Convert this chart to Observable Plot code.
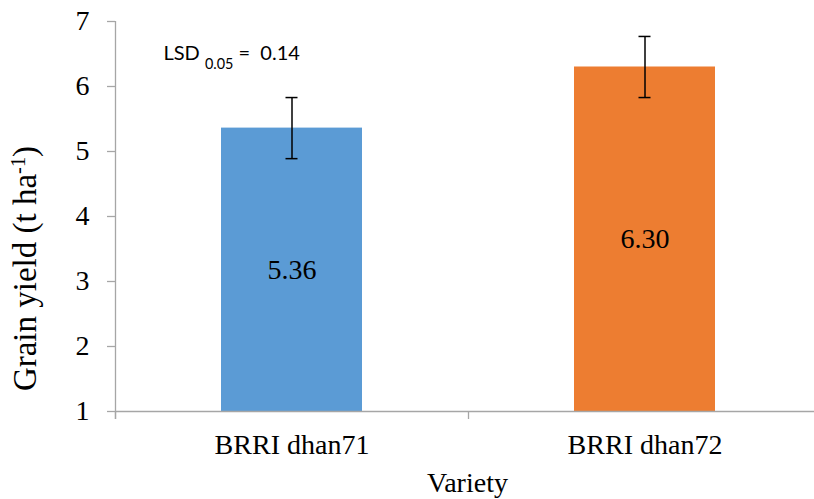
<!DOCTYPE html>
<html>
<head>
<meta charset="utf-8">
<script src="https://cdn.jsdelivr.net/npm/d3@7"></script>
<script src="https://cdn.jsdelivr.net/npm/@observablehq/plot@0.6"></script>
<style>
  html, body { margin: 0; padding: 0; background: #fff; }
  #chart svg text { font-family: 'Liberation Serif', 'Times New Roman', serif; font-variant: normal; }
</style>
</head>
<body>
<div id="chart"></div>
<script>
// Grain yield by variety (t/ha), with error bars
const varieties = ["BRRI dhan71", "BRRI dhan72"];
const yields = [5.36, 6.30];
const errors = [0.47, 0.47];
const barColors = ["#5b9bd5", "#ed7d31"];
const yTicks = [1, 2, 3, 4, 5, 6, 7];
const lsdLabel = "LSD";
const lsdSub = "0.05";
const lsdValue = "0.14";
const yLabel = "Grain yield (t ha";
const yLabelSup = "-1";
const xLabel = "Variety";

const data = varieties.map((variety, i) => ({variety, yield: yields[i], err: errors[i]}));

// layout
const W = 814, H = 499;
const plotLeft = 115, plotTop = 21, plotBottom = 411;
const xRange = [plotLeft, 821];
const band = (xRange[1] - xRange[0]) / varieties.length;
const barW = 141, capW = 12, tickLen = 8;
const axisGray = "#a6a6a6";
const serif = "'Liberation Serif', 'Times New Roman', serif";
const sans = "Lato, 'Liberation Sans', sans-serif";
const yMin = yTicks[0], yMax = yTicks[yTicks.length - 1];
const pxPerUnit = (plotBottom - plotTop) / (yMax - yMin);
const below = yMin - tickLen / pxPerUnit;

const chart = Plot.plot({
  width: W,
  height: H,
  marginLeft: plotLeft,
  marginTop: plotTop,
  marginBottom: H - plotBottom,
  marginRight: 0,
  style: {fontFamily: serif, background: "#fff", color: "#000", overflow: "visible"},
  x: {type: "band", domain: varieties, range: xRange, padding: 0, axis: null, label: null},
  y: {domain: [yMin, yMax], axis: null, label: null},
  color: {domain: varieties, range: barColors},
  marks: [
    // bars
    Plot.barY(data, {
      x: "variety", y1: yMin, y2: "yield", fill: "variety",
      insetLeft: (band - barW) / 2, insetRight: (band - barW) / 2
    }),
    // value labels in the middle of each bar
    Plot.text(data, {
      x: "variety", y: d => (yMin + d.yield) / 2, text: d => d.yield.toFixed(2),
      fontSize: 28, fill: "#000", fontFamily: serif
    }),
    // error bars
    Plot.ruleX(data, {
      x: "variety", y1: d => d.yield - d.err, y2: d => d.yield + d.err,
      stroke: "#000", strokeWidth: 1.5
    }),
    Plot.tickY(data, {
      x: "variety", y: d => d.yield + d.err, stroke: "#000", strokeWidth: 1.5,
      insetLeft: (band - capW) / 2, insetRight: (band - capW) / 2
    }),
    Plot.tickY(data, {
      x: "variety", y: d => d.yield - d.err, stroke: "#000", strokeWidth: 1.5,
      insetLeft: (band - capW) / 2, insetRight: (band - capW) / 2
    }),
    // x baseline
    Plot.ruleY([yMin], {stroke: axisGray, strokeWidth: 1.3}),
    // y axis line and category boundary ticks
    Plot.ruleX([varieties[0]], {x: d => d, dx: -band / 2, y1: below, y2: yMax, stroke: axisGray, strokeWidth: 1.3}),
    Plot.ruleX(varieties, {x: d => d, dx: -band / 2, y1: below, y2: yMin, stroke: axisGray, strokeWidth: 1.3}),
    // y axis ticks and labels
    Plot.axisY({
      ticks: yTicks, tickSize: tickLen, tickPadding: 18, tickFormat: d => d,
      stroke: axisGray, strokeWidth: 1.3, fill: "#000", fontSize: 28, fontFamily: serif, label: null
    }),
    // x axis category labels
    Plot.axisX({
      tickSize: 0, tickPadding: 23, fill: "#000", fontSize: 28, fontFamily: serif, label: null
    }),
    // axis titles
    Plot.text([xLabel], {
      frameAnchor: "bottom", lineAnchor: "top", dx: 2.5, dy: 61,
      fontSize: 28, fill: "#000", fontFamily: serif
    }),
    Plot.text([yLabel], {
      frameAnchor: "left", textAnchor: "middle", rotate: -90, dx: -90, dy: 52,
      fontSize: 33, fill: "#000", fontFamily: serif
    }),
    // LSD annotation
    Plot.text([lsdLabel], {
      frameAnchor: "top-left", textAnchor: "start", lineAnchor: "top", dx: 48, dy: 24,
      fontSize: 20, fill: "#000", fontFamily: sans
    })
  ]
});

// rich text: superscript on the y title, subscript on the LSD note
const svg = d3.select(chart);
svg.selectAll("text").filter(function() { return this.textContent === yLabel; })
  .each(function() {
    const t = d3.select(this);
    t.text(yLabel);
    t.append("tspan").attr("baseline-shift", "super").attr("font-size", "0.62em").text(yLabelSup);
    t.append("tspan").text(")");
  });
svg.selectAll("text").filter(function() { return this.textContent === lsdLabel; })
  .each(function() {
    const t = d3.select(this).style("white-space", "pre").style("font-family", sans);
    t.text(lsdLabel + " ");
    t.append("tspan").attr("baseline-shift", "sub").attr("font-size", "0.72em").text(lsdSub);
    t.append("tspan").text(" =  " + lsdValue);
  });

document.getElementById("chart").appendChild(chart);
</script>
</body>
</html>
